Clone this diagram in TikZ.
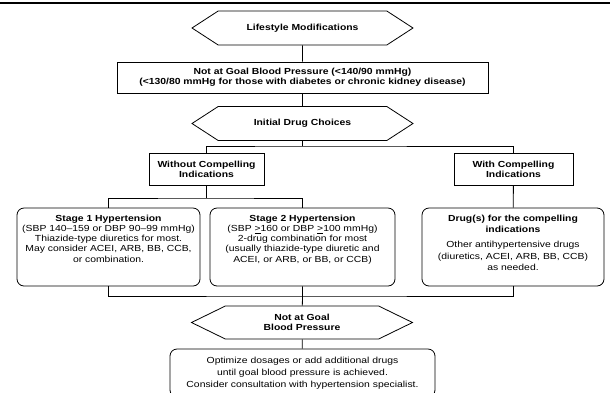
\documentclass[tikz,border=0pt]{standalone}
\usepackage{fontspec}
\setmainfont[FakeStretch=1.18]{Liberation Sans}
\usetikzlibrary{shapes.symbols}

\begin{document}
\begin{tikzpicture}[x=1pt,y=1pt,line width=0.8pt,
        every node/.style={align=center,inner sep=0pt,font=\fontsize{8.8}{10.2}\selectfont},
        hexa/.style={draw,shape=signal,signal to=west and east,signal pointer angle=66,minimum width=221pt,minimum height=34pt,font=\fontsize{8.8}{10.2}\selectfont\bfseries},
        sqbox/.style={draw,minimum height=32pt,font=\fontsize{8.8}{10.2}\selectfont\bfseries},
        rbox/.style={draw,rounded corners=7pt,minimum height=78pt}]
    \useasboundingbox (0,0) rectangle (610,-392);
    \draw[line width=1.3pt] (0,-3) -- (610,-3);

    \node[hexa] (life) at (302.5,-28) {Lifestyle Modifications};
    \node[sqbox,minimum width=371pt,minimum height=31pt] (goal) at (302.5,-77.5)
        {Not at Goal Blood Pressure (<140/90 mmHg)\\(<130/80 mmHg for those with diabetes or chronic kidney disease)};
    \node[hexa] (init) at (302.5,-123.5) {Initial Drug Choices};
    \node[sqbox,minimum width=115pt] (without) at (206.5,-169) {Without Compelling\\Indications};
    \node[sqbox,minimum width=119pt] (with) at (513.5,-169) {With Compelling\\Indications};

    \node[rbox,minimum width=183pt] (stage1) at (108.5,-247) {};
    \node[rbox,minimum width=185pt] (stage2) at (302.5,-247) {};
    \node[rbox,minimum width=182pt] (drug) at (513,-247) {};
    \node[anchor=north] (stage1txt) at ([yshift=-7pt]stage1.north)
        {\textbf{Stage 1 Hypertension}\\(SBP 140–159 or DBP 90–99 mmHg)\\Thiazide-type diuretics for most.\\May consider ACEI, ARB, BB, CCB,\\or combination.};
    \node[anchor=north] (stage2txt) at ([yshift=-7pt]stage2.north)
        {\textbf{Stage 2 Hypertension}\\(SBP \underline{>}160 or DBP \underline{>}100 mmHg)\\2-drug combination for most\\(usually thiazide-type diuretic and\\ACEI, or ARB, or BB, or CCB)};
    \node[anchor=north,font=\fontsize{8.8}{11.6}\selectfont] (drugtxt) at ([yshift=-7pt]drug.north)
        {\textbf{Drug(s) for the compelling}\\\textbf{indications}\\[3pt]Other antihypertensive drugs\\(diuretics, ACEI, ARB, BB, CCB)\\as needed.};

    \node[hexa,signal pointer angle=52,minimum height=33pt] (again) at (302,-322.5) {Not at Goal\\Blood Pressure};
    \node[rbox,minimum width=265pt,minimum height=48pt,font=\fontsize{8.8}{12}\selectfont] (optim) at (302.5,-373)
        {Optimize dosages or add additional drugs\\until goal blood pressure is achieved.\\Consider consultation with hypertension specialist.};

    \coordinate (split1) at (302.5,-146);
    \coordinate (split2) at (206.5,-198);
    \coordinate (split3) at (302.5,-296);
    \draw (life) -- (goal);
    \draw (goal) -- (init);
    \draw (init) -- (split1);
    \draw (without.north) |- (split1) -| (with.north);
    \draw (without) -- (split2);
    \draw (stage1.north) |- (split2) -| (stage2.north);
    \draw (with) -- (drug);
    \draw (stage1.south) |- (split3) -| (drug.south);
    \draw (stage2) -- (split3) -- (again);
    \draw (again) -- (optim);
\end{tikzpicture}
\end{document}
